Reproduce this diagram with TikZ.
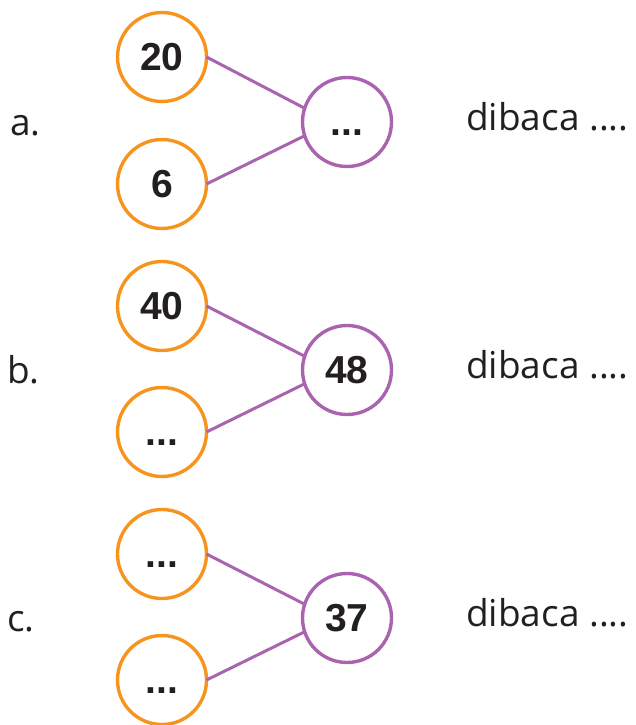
\documentclass[tikz,border=0pt]{standalone}
\usepackage{fontspec}
\setmainfont{Open Sans}
\newfontfamily\numfont{Liberation Sans}[BoldFont={Liberation Sans Bold}]
\definecolor{orng}{RGB}{247,148,29}
\definecolor{purp}{RGB}{170,100,175}
\definecolor{txt}{RGB}{35,31,32}
\begin{document}
\begin{tikzpicture}[x=1pt,y=-1pt,
  obub/.style={circle,draw=orng,line width=3.4pt,minimum size=89pt,inner sep=0pt,outer sep=0pt,font=\numfont\fontsize{39}{40}\selectfont\bfseries,text=txt},
  pbub/.style={circle,draw=purp,line width=3.4pt,minimum size=89pt,inner sep=0pt,outer sep=0pt,font=\numfont\fontsize{39}{40}\selectfont\bfseries,text=txt},
  conn/.style={draw=purp,line width=3pt},
  lbl/.style={anchor=base west,inner sep=0pt,font=\fontsize{37}{40}\selectfont,text=txt}]
\useasboundingbox (0,0) rectangle (635,725);
% a
\node[obub] (a1) at (162,57) {\vphantom{0}20};
\node[obub] (a2) at (162,184) {\vphantom{0}6};
\node[pbub] (ap) at (347,122) {\vphantom{0}...};
\draw[conn] (a1.east) -- (ap.162);
\draw[conn] (a2.east) -- (ap.198);
\node[lbl] (al) at (10,135) {a.};
\node[lbl] (ad) at (466,130) {dibaca ....};
% b
\node[obub] (b1) at (162,306) {\vphantom{0}40};
\node[obub] (b2) at (162,432) {\vphantom{0}...};
\node[pbub] (bp) at (347,370) {\vphantom{0}48};
\draw[conn] (b1.east) -- (bp.162);
\draw[conn] (b2.east) -- (bp.198);
\node[lbl] (bl) at (7,383) {b.};
\node[lbl] (bd) at (466,378) {dibaca ....};
% c
\node[obub] (c1) at (162,554) {\vphantom{0}...};
\node[obub] (c2) at (162,680) {\vphantom{0}...};
\node[pbub] (cp) at (347,618) {\vphantom{0}37};
\draw[conn] (c1.east) -- (cp.162);
\draw[conn] (c2.east) -- (cp.198);
\node[lbl] (cl) at (7,631) {c.};
\node[lbl] (cd) at (466,626) {dibaca ....};
\end{tikzpicture}
\end{document}
